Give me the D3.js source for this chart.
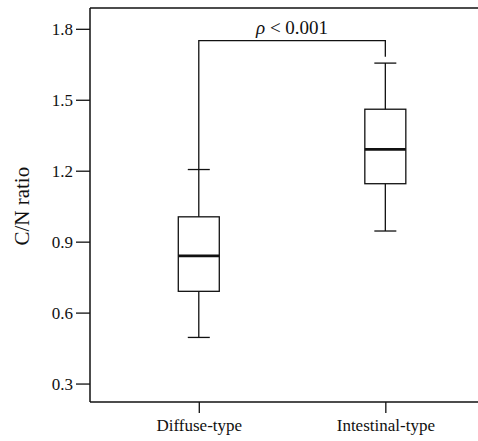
<!DOCTYPE html>
<html>
<head>
<meta charset="utf-8">
<script src="https://cdn.jsdelivr.net/npm/d3@7"></script>
<style>
  body { margin: 0; background: #fff; }
  svg text { font-family: "Liberation Serif", "Times New Roman", serif !important; fill: #111; }
</style>
</head>
<body>
<div class="canvas"></div>
<script>
// data
const categories = ['Diffuse-type', 'Intestinal-type']
const whiskerLow = [0.495, 0.945]
const q1 = [0.69, 1.145]
const medians = [0.84, 1.29]
const q3 = [1.005, 1.46]
const whiskerHigh = [1.205, 1.655]
const yTicks = [0.3, 0.6, 0.9, 1.2, 1.5, 1.8]
const pSymbol = 'ρ'
const pText = ' < 0.001'
const bracketLevel = 1.75

const dimensions = { width: 478, height: 441 }
const margin = { top: 8, right: 0, bottom: 39, left: 90 }

const svg = d3.select('.canvas')
    .append('svg')
    .attr('width', dimensions.width)
    .attr('height', dimensions.height)

const graphWidth = dimensions.width - margin.left - margin.right
const graphHeight = dimensions.height - margin.top - margin.bottom

const graph = svg.append('g')
    .attr('transform', `translate(${margin.left}, ${margin.top})`)

// scales
const y = d3.scaleLinear()
    .domain([0.222, 1.888])
    .range([graphHeight, 0])

const x = d3.scalePoint()
    .domain(categories)
    .range([0, graphWidth])
    .padding(0.54)
    .align(0.54)

const boxWidth = 41
const capWidth = 22
const ink = '#111'

// top frame line
graph.append('line')
    .attr('x1', 0).attr('x2', graphWidth)
    .attr('y1', 0).attr('y2', 0)
    .attr('stroke', ink).attr('stroke-width', 1.5)

// axes
const yAxis = d3.axisLeft(y)
    .tickValues(yTicks)
    .tickFormat(d3.format('.1f'))
    .tickSize(14)
    .tickSizeOuter(0)
    .tickPadding(3)

const xAxis = d3.axisBottom(x)
    .tickSize(11)
    .tickSizeOuter(0)
    .tickPadding(6)

const yAxisGroup = graph.append('g').call(yAxis)
const xAxisGroup = graph.append('g')
    .attr('transform', `translate(0, ${graphHeight})`)
    .call(xAxis)

yAxisGroup.select('.domain').attr('d', `M0,0V${graphHeight}`)
xAxisGroup.select('.domain').attr('d', `M0,0H${graphWidth}`)

;[yAxisGroup, xAxisGroup].forEach(g => {
    g.attr('font-family', null).attr('font-size', null)
    g.select('.domain').attr('stroke', ink).attr('stroke-width', 1.5)
    g.selectAll('.tick line').attr('stroke', ink).attr('stroke-width', 1.3)
    g.selectAll('text')
        .style('font-size', '17px')
        .attr('fill', ink)
})

// y axis title
svg.append('text')
    .attr('transform', `translate(29, ${margin.top + y(1.05)}) rotate(-90)`)
    .attr('text-anchor', 'middle')
    .style('font-size', '21px')
    .text('C/N ratio')

// boxes
const stats = categories.map((c, i) => ({
    cat: c, lo: whiskerLow[i], q1: q1[i], med: medians[i], q3: q3[i], hi: whiskerHigh[i]
}))

const boxes = graph.selectAll('g.box')
    .data(stats)
    .enter()
    .append('g')
    .attr('class', 'box')
    .attr('transform', d => `translate(${x(d.cat)}, 0)`)

// whiskers
boxes.append('line')
    .attr('x1', 0).attr('x2', 0)
    .attr('y1', d => y(d.hi)).attr('y2', d => y(d.q3))
    .attr('stroke', ink).attr('stroke-width', 1.3)

boxes.append('line')
    .attr('x1', 0).attr('x2', 0)
    .attr('y1', d => y(d.q1)).attr('y2', d => y(d.lo))
    .attr('stroke', ink).attr('stroke-width', 1.3)

boxes.append('line')
    .attr('x1', -capWidth / 2).attr('x2', capWidth / 2)
    .attr('y1', d => y(d.hi)).attr('y2', d => y(d.hi))
    .attr('stroke', ink).attr('stroke-width', 1.3)

boxes.append('line')
    .attr('x1', -capWidth / 2).attr('x2', capWidth / 2)
    .attr('y1', d => y(d.lo)).attr('y2', d => y(d.lo))
    .attr('stroke', ink).attr('stroke-width', 1.3)

boxes.append('rect')
    .attr('x', -boxWidth / 2)
    .attr('width', boxWidth)
    .attr('y', d => y(d.q3))
    .attr('height', d => y(d.q1) - y(d.q3))
    .attr('fill', 'none')
    .attr('stroke', ink).attr('stroke-width', 1.3)

boxes.append('line')
    .attr('x1', -boxWidth / 2).attr('x2', boxWidth / 2)
    .attr('y1', d => y(d.med)).attr('y2', d => y(d.med))
    .attr('stroke', ink).attr('stroke-width', 2.6)

// significance bracket
const bx1 = x(categories[0])
const bx2 = x(categories[1])
const by = y(bracketLevel)
graph.append('path')
    .attr('d', `M${bx1},${y(whiskerHigh[0])}V${by}H${bx2}V${by + 16}`)
    .attr('fill', 'none')
    .attr('stroke', ink).attr('stroke-width', 1.3)

const pLabel = graph.append('text')
    .attr('x', (bx1 + bx2) / 2)
    .attr('y', by - 7)
    .attr('text-anchor', 'middle')
    .style('font-size', '19px')
pLabel.append('tspan').style('font-style', 'italic').text(pSymbol)
pLabel.append('tspan').text(pText)
</script>
</body>
</html>
